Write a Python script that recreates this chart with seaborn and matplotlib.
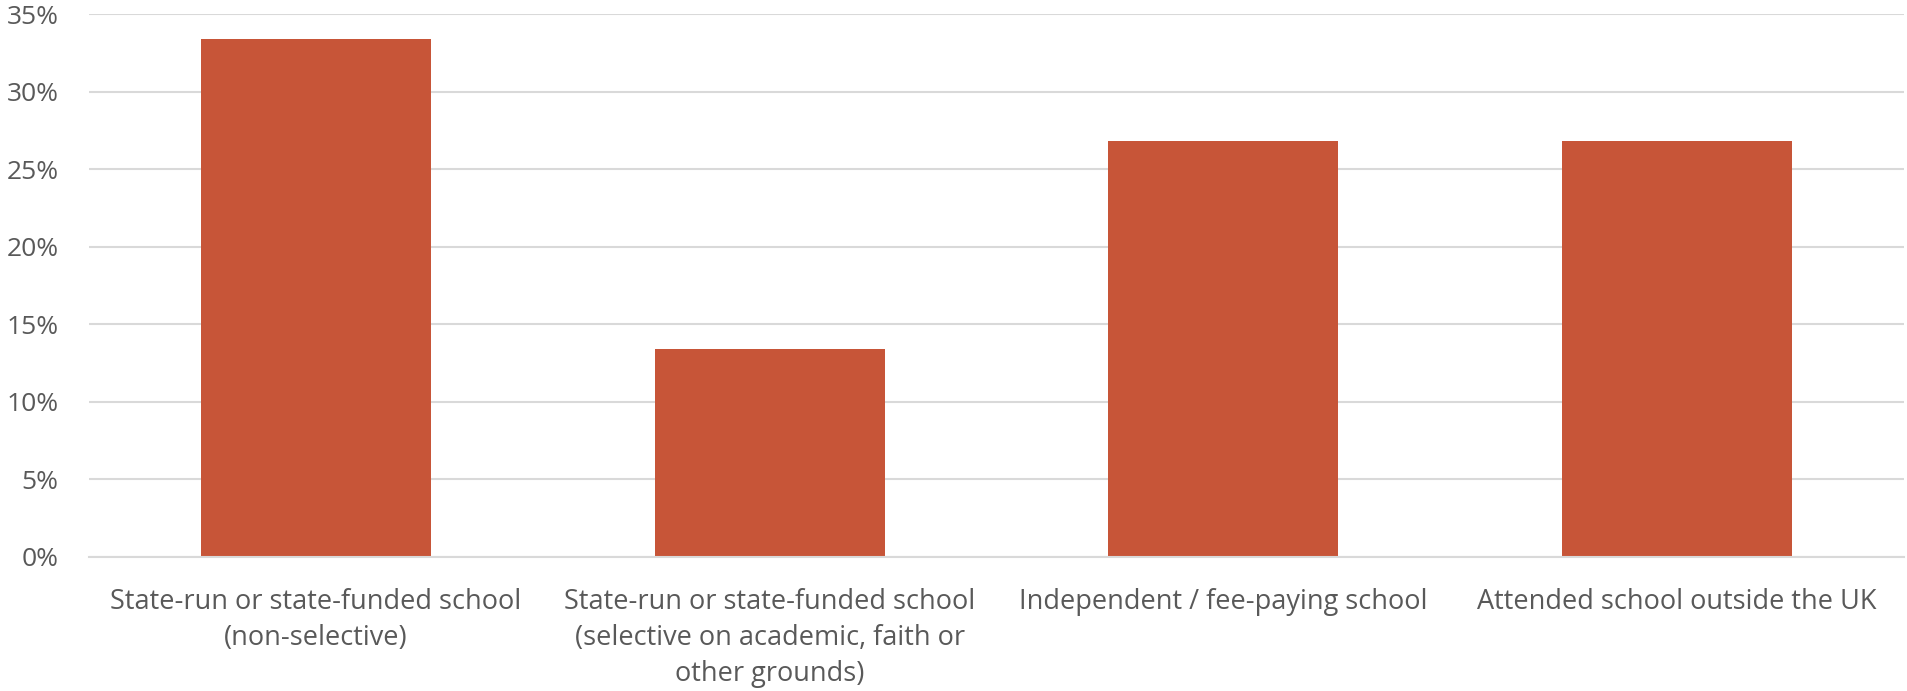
import matplotlib
matplotlib.use("Agg")
import matplotlib.pyplot as plt
import seaborn as sns
import pandas as pd
from matplotlib.ticker import FixedLocator, FuncFormatter

categories = [
    "State-run or state-funded school\n(non-selective)",
    "State-run or state-funded school\n(selective on academic, faith or\nother grounds)",
    "Independent / fee-paying school",
    "Attended school outside the UK",
]
values = [33.4, 13.4, 26.8, 26.8]
y_ticks = [0, 5, 10, 15, 20, 25, 30, 35]

sns.set_theme(style="white")
plt.rcParams['font.family'] = ['Open Sans', 'DejaVu Sans']

fig = plt.figure(figsize=(19.08, 6.91), dpi=100)
ax = fig.add_axes([89 / 1908, 1 - 557 / 691, (1904 - 89) / 1908, (557 - 14) / 691])

df = pd.DataFrame({"cat": categories, "val": values})
sns.barplot(data=df, x="cat", y="val", color="#C75538", width=0.507, ax=ax,
            saturation=1, edgecolor="none", zorder=3)

ax.set_ylim(0, 35)
ax.set_xlim(-0.5, len(categories) - 0.5)
ax.yaxis.set_major_locator(FixedLocator(y_ticks))
ax.yaxis.set_major_formatter(FuncFormatter(lambda v, p: f"{int(v)}%"))
ax.grid(axis="y", color="#D9D9D9", linewidth=1.5, zorder=0)
ax.set_axisbelow(True)
for s in ["top", "right", "left"]:
    ax.spines[s].set_visible(False)
ax.spines["bottom"].set_color("#D9D9D9")
ax.spines["bottom"].set_linewidth(1.5)
ax.spines["bottom"].set_zorder(4)
ax.set_xlabel("")
ax.set_ylabel("")
ax.tick_params(axis="y", length=0, labelsize=19, labelcolor="#595959", pad=22)
ax.tick_params(axis="x", which="major", length=0, labelsize=19.5, labelcolor="#595959", pad=22)
ax.set_xticks([i - 0.5 for i in range(len(categories) + 1)], minor=True)
ax.tick_params(axis="x", which="minor", length=7, width=1.5, color="#D9D9D9", direction="out")
for lbl in ax.get_xticklabels():
    lbl.set_linespacing(1.38)

fig.savefig("out.png", dpi=100, facecolor="white")
